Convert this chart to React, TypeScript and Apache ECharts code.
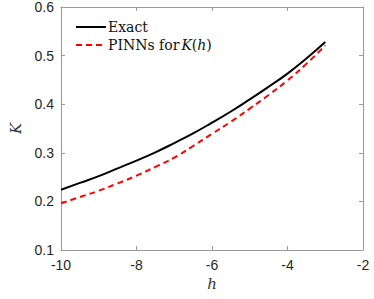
import React, { useEffect, useRef } from "react";
import * as echarts from "echarts";

const hValues = [-10, -9.5, -9, -8.5, -8, -7.5, -7, -6.5, -6, -5.5, -5, -4.5, -4, -3.5, -3];
const exactK = [0.224, 0.238, 0.252, 0.268, 0.284, 0.301, 0.32, 0.34, 0.362, 0.385, 0.41, 0.436, 0.463, 0.494, 0.528];
const pinnK = [0.196, 0.209, 0.222, 0.237, 0.253, 0.271, 0.29, 0.314, 0.339, 0.364, 0.391, 0.419, 0.449, 0.483, 0.521];
const xTicks = [-10, -8, -6, -4, -2];
const yTicks = [0.1, 0.2, 0.3, 0.4, 0.5, 0.6];

export default function App() {
  const ref = useRef<HTMLDivElement>(null);
  useEffect(() => {
    if (!ref.current) return;
    const chart = echarts.init(ref.current, undefined, { renderer: "svg" });
    const axisColor = "#9a9a9a";
    const serif = "DejaVu Serif, serif";
    const labelStyle = { color: "#262626", fontSize: 14, fontFamily: "Liberation Sans, Arial, sans-serif" };
    chart.setOption({
      animation: false,
      grid: { left: 60, right: 11, top: 6, bottom: 49 },
      legend: {
        orient: "vertical",
        left: 70,
        top: 15,
        itemWidth: 30,
        itemHeight: 10,
        itemGap: 4,
        itemStyle: { opacity: 0 },
        textStyle: {
          fontFamily: serif,
          fontSize: 14,
          color: "#111",
          padding: [0, 0, 0, -3],
          rich: {
            it: { fontFamily: serif, fontSize: 14, fontStyle: "italic", color: "#111", padding: [0, 0, 0, 2] },
            ih: { fontFamily: serif, fontSize: 14, fontStyle: "italic", color: "#111" },
            n: { fontFamily: serif, fontSize: 14, color: "#111" },
          },
        },
        formatter: (name: string) =>
          name === "Exact" ? "{n|Exact}" : "{n|PINNs for}{it|K}{n|(}{ih|h}{n|)}",
        data: ["Exact", "PINNs forK(h)"],
      },
      xAxis: [
        {
          type: "value",
          min: -10,
          max: -2,
          interval: 2,
          name: "h",
          nameLocation: "middle",
          nameGap: 26,
          nameTextStyle: { fontFamily: serif, fontStyle: "italic", fontSize: 15, color: "#333" },
          axisLine: { show: true, lineStyle: { color: axisColor, width: 1 } },
          axisTick: { show: true, inside: true, length: 4, lineStyle: { color: axisColor } },
          axisLabel: {
            ...labelStyle,
            margin: 8,
            formatter: (v: number) => {
              const t = xTicks.find((x) => Math.abs(x - v) < 1e-6);
              return t !== undefined ? String(t) : "";
            },
          },
          splitLine: { show: false },
        },
        {
          type: "value",
          position: "top",
          min: -10,
          max: -2,
          interval: 2,
          axisLine: { show: true, lineStyle: { color: axisColor, width: 1 } },
          axisTick: { show: true, inside: true, length: 4, lineStyle: { color: axisColor } },
          axisLabel: { show: false },
          splitLine: { show: false },
        },
      ],
      yAxis: [
        {
          type: "value",
          min: 0.1,
          max: 0.6,
          interval: 0.1,
          name: "K",
          nameLocation: "middle",
          nameGap: 38,
          nameRotate: 90,
          nameTextStyle: { fontFamily: serif, fontStyle: "italic", fontSize: 15, color: "#333" },
          axisLine: { show: true, lineStyle: { color: axisColor, width: 1 } },
          axisTick: { show: true, inside: true, length: 4, lineStyle: { color: axisColor } },
          axisLabel: {
            ...labelStyle,
            margin: 7,
            formatter: (v: number) => {
              const t = yTicks.find((y) => Math.abs(y - v) < 1e-6);
              return t !== undefined ? t.toFixed(1) : "";
            },
          },
          splitLine: { show: false },
        },
        {
          type: "value",
          position: "right",
          min: 0.1,
          max: 0.6,
          interval: 0.1,
          axisLine: { show: true, lineStyle: { color: axisColor, width: 1 } },
          axisTick: { show: true, inside: true, length: 4, lineStyle: { color: axisColor } },
          axisLabel: { show: false },
          splitLine: { show: false },
        },
      ],
      series: [
        {
          name: "Exact",
          type: "line",
          smooth: true,
          symbol: "none",
          data: hValues.map((h, i) => [h, exactK[i]]),
          lineStyle: { color: "#000", width: 2 },
          itemStyle: { color: "#000" },
        },
        {
          name: "PINNs forK(h)",
          type: "line",
          smooth: true,
          symbol: "none",
          data: hValues.map((h, i) => [h, pinnK[i]]),
          lineStyle: { color: "#ff0000", width: 2, type: [6, 4] },
          itemStyle: { color: "#ff0000" },
        },
      ],
    });
    return () => chart.dispose();
  }, []);
  return <div ref={ref} style={{ width: 374, height: 299, position: "absolute", left: 0, top: 0, background: "#fff" }} />;
}
